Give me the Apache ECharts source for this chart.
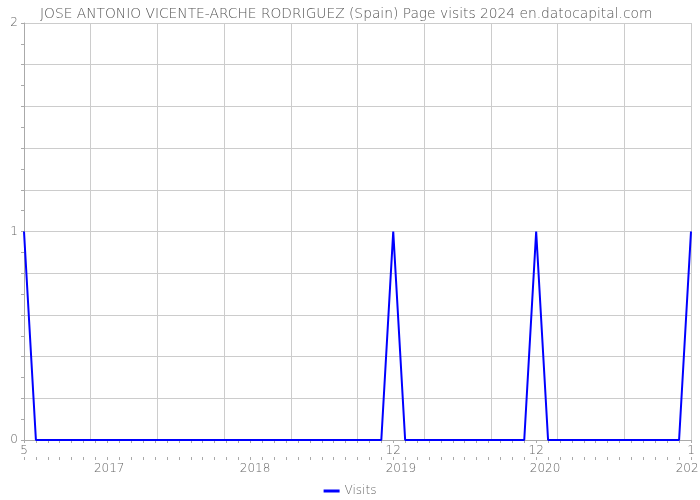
<!DOCTYPE html>
<html><head><meta charset="utf-8">
<script src="https://cdn.jsdelivr.net/npm/echarts@6/dist/echarts.min.js"></script>
<style>html,body{margin:0;padding:0;background:#fff}#c{width:700px;height:500px}</style>
</head><body><div id="c"></div>
<script>
const titleText = 'JOSE ANTONIO VICENTE-ARCHE RODRIGUEZ (Spain) Page visits 2024 en.datocapital.com';
// months May 2016 .. Jan 2021
const months = [5,6,7,8,9,10,11,12,
  1,2,3,4,5,6,7,8,9,10,11,12,
  1,2,3,4,5,6,7,8,9,10,11,12,
  1,2,3,4,5,6,7,8,9,10,11,12,
  1,2,3,4,5,6,7,8,9,10,11,12,
  1];
const visits = [1,0,0,0,0,0,0,0,
  0,0,0,0,0,0,0,0,0,0,0,0,
  0,0,0,0,0,0,0,0,0,0,0,1,
  0,0,0,0,0,0,0,0,0,0,0,1,
  0,0,0,0,0,0,0,0,0,0,0,0,
  1];
const monthLabelIdx = [0, 31, 43, 56];
const yearLabels = ['2017','2018','2019','2020','2021'];
const yearPos = [7.15, 19.4, 31.65, 43.75, 56];
const yLabels = [0, 1, 2];

const gridCol = '#cccccc', axisCol = '#aaaaaa', txt = '#666666';
const FONT = 'DejaVu Sans';
const chart = echarts.init(document.getElementById('c'));
const last = months.length - 1;
chart.setOption({
  animation: false,
  textStyle: {fontFamily: FONT, fontWeight: 200},
  title: {text: titleText, left: 35, top: 2,
    textStyle: {fontSize: 13.8, fontWeight: 200, color: '#555', fontFamily: FONT}},
  legend: {bottom: -2, left: 'center', icon: 'rect', itemWidth: 16, itemHeight: 3,
    textStyle: {color: txt, fontSize: 12, fontFamily: FONT, fontWeight: 200}, data: ['Visits']},
  grid: {left: 24, right: 9, top: 23, bottom: 60, containLabel: false, outerBoundsMode: 'none'},
  xAxis: [
    {type: 'category', data: months.map(String), boundaryGap: false,
      axisLine: {lineStyle: {color: axisCol}},
      axisTick: {show: true, interval: 0, length: 3, lineStyle: {color: axisCol}},
      axisLabel: {interval: (i) => monthLabelIdx.includes(i), color: txt, fontSize: 12, margin: 5, fontWeight: 200},
      splitLine: {show: false}},
    {type: 'value', min: 0, max: last, interval: last / 10, show: true,
      axisLine: {show: false}, axisTick: {show: false}, axisLabel: {show: false},
      splitLine: {show: true, lineStyle: {color: gridCol}}},
    {type: 'category', data: months.map(String), boundaryGap: false, position: 'bottom', offset: 17,
      axisLine: {show: false},
      axisTick: {show: true, interval: 0, length: 3, lineStyle: {color: axisCol}},
      axisLabel: {show: false}, splitLine: {show: false}},
    {type: 'value', min: 0, max: last, interval: 0.05, position: 'bottom', offset: 17,
      axisLine: {show: false}, axisTick: {show: false}, splitLine: {show: false},
      axisLabel: {color: txt, fontSize: 12, margin: 6, showMinLabel: true, showMaxLabel: true, fontWeight: 200,
        formatter: (v) => { for (let k = 0; k < yearPos.length; k++) if (Math.abs(v - yearPos[k]) < 0.01) return yearLabels[k]; return ''; }}}
  ],
  yAxis: {type: 'value', min: 0, max: 2, interval: 0.2,
    axisLine: {show: true, lineStyle: {color: axisCol}},
    axisTick: {show: true, length: 3, lineStyle: {color: axisCol}},
    minorTick: {show: true, splitNumber: 2, length: 3, lineStyle: {color: axisCol}},
    axisLabel: {color: txt, fontSize: 12, margin: 6, fontWeight: 200,
      formatter: (v) => { const r = Math.round(v * 10) / 10; return yLabels.includes(r) ? String(r) : ''; }},
    splitLine: {show: true, lineStyle: {color: gridCol}}},
  series: [{name: 'Visits', type: 'line', data: visits, xAxisIndex: 0,
    symbol: 'none', lineStyle: {color: '#0000ff', width: 2}, itemStyle: {color: '#0000ff'}}]
});
</script></body></html>
